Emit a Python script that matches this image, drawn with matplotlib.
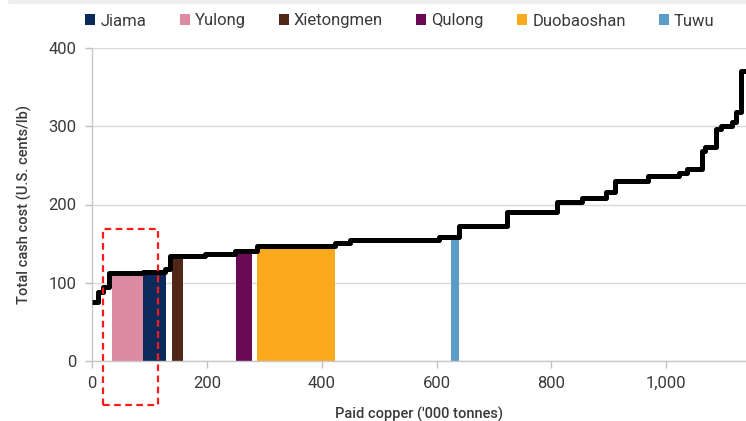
import matplotlib
matplotlib.use("Agg")
import matplotlib.pyplot as plt
from matplotlib.patches import Patch, Rectangle

# Global cost curve: cumulative paid copper ('000 t) where each step starts, and its cash cost
curve_x = [0, 10, 19, 30, 89, 127, 136, 197, 249, 287, 423, 449, 605, 640, 722,
           809, 854, 895, 910, 968, 1023, 1037, 1063, 1068, 1087, 1096, 1115,
           1122, 1130, 1140]
curve_cost = [75, 88, 94, 112, 114, 118, 134, 137, 141, 147, 151, 154, 158, 172,
              191, 203, 208, 216, 230, 236, 240, 246, 268, 273, 296, 300, 306,
              318, 370, 370]

# Highlighted mines on the curve
mines = ["Jiama", "Yulong", "Xietongmen", "Qulong", "Duobaoshan", "Tuwu"]
mine_start = [89, 35, 139, 250, 287, 626]
mine_end = [129, 89, 158, 278, 424, 640]
mine_cost = [114, 112, 134, 141, 147, 158]
mine_colors = ["#0b2a5c", "#dd8aa3", "#4f2818", "#6a0a55", "#fba91d", "#5b9dc9"]

x_ticks = [0, 200, 400, 600, 800, 1000]
x_tick_labels = ["0", "200", "400", "600", "800", "1,000"]
y_ticks = [0, 100, 200, 300, 400]

plt.rcParams["font.family"] = ["Roboto", "DejaVu Sans"]
text_color = "#3a3a3a"
grid_color = "#d9d9d9"

fig = plt.figure(figsize=(7.46, 4.21), dpi=100)
ax = fig.add_axes([92 / 746, 1 - 361 / 421, 1 - 92 / 746, (361 - 48) / 421])

# Mine bars
for s, e, c, col in zip(mine_start, mine_end, mine_cost, mine_colors):
    ax.bar(s, c, width=e - s, align="edge", color=col, linewidth=0, zorder=2)

# Cost curve
ax.step(curve_x, curve_cost, where="post", color="black", linewidth=3.6,
        solid_joinstyle="round", solid_capstyle="butt", zorder=3)

# Dashed highlight box around the Yulong / Jiama area
ax.add_patch(Rectangle((19, -56), 115 - 19, 169 + 56, fill=False,
                       edgecolor="#ff1a1a", linestyle=(0, (3, 2)),
                       linewidth=1.6, clip_on=False, zorder=4))

ax.set_xlim(0, 1139)
ax.set_ylim(0, 400)
ax.set_xticks(x_ticks)
ax.set_xticklabels(x_tick_labels)
ax.set_yticks(y_ticks)
ax.yaxis.grid(True, color=grid_color, linewidth=1)
ax.set_axisbelow(True)
for side in ["top", "right"]:
    ax.spines[side].set_visible(False)
for side in ["left", "bottom"]:
    ax.spines[side].set_color("#c8c8c8")
    ax.spines[side].set_linewidth(1)
ax.tick_params(axis="both", colors="#c0c0c0", labelcolor=text_color,
               labelsize=12, length=5, width=1)
ax.tick_params(axis="y", pad=6)
ax.tick_params(axis="x", pad=6)

ax.set_xlabel("Paid copper ('000 tonnes)", fontsize=10.5, color=text_color,
              fontweight="medium", labelpad=11)
ax.set_ylabel("Total cash cost (U.S. cents/lb)", fontsize=10.5, color=text_color,
              fontweight="medium", labelpad=12)

handles = [Patch(facecolor=c, edgecolor="none", label=m)
           for m, c in zip(mines, mine_colors)]
fig.legend(handles=handles, loc="center", bbox_to_anchor=(400 / 746, 1 - 21 / 421),
           ncol=6, frameon=False, fontsize=12, handlelength=0.6,
           handleheight=0.6, handletextpad=0.3, columnspacing=2.0,
           labelcolor=text_color)

# Thin grey band along the top edge
fig.patches.append(Rectangle((8 / 746, 1 - 3 / 421), 1, 3 / 421,
                             transform=fig.transFigure, color="#eeeeee",
                             zorder=0))

fig.savefig("out.png", dpi=100)
